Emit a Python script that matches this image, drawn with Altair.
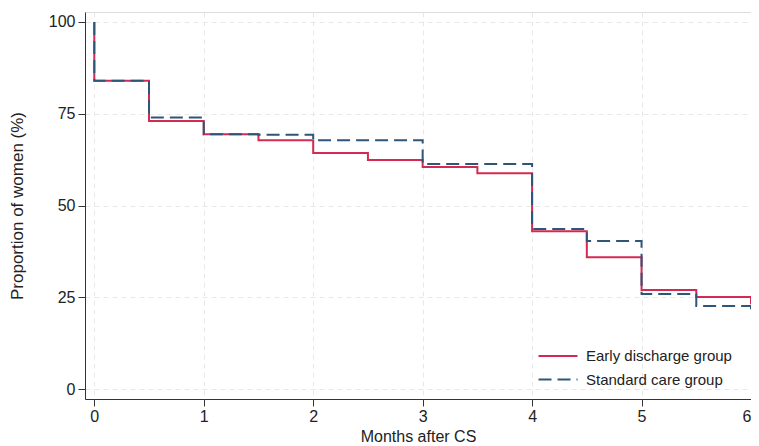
import altair as alt
import pandas as pd

times = [0, 0, 0.5, 1, 1.5, 2, 2.5, 3, 3.5, 4, 4.5, 5, 5.5, 6]
early = [100, 84, 73, 69.4, 67.8, 64.3, 62.4, 60.5, 58.8, 43, 35.9, 27, 25.1, 23.1]
standard = [100, 84, 74, 69.4, 69.3, 67.8, 67.8, 61.3, 61.3, 43.6, 40.3, 25.9, 22.6, 21]
groups = ["Early discharge group", "Standard care group"]
colors = ["#d22a52", "#2d5679"]

rows = []
for g, vals in zip(groups, [early, standard]):
    for i, (t, v) in enumerate(zip(times, vals)):
        rows.append({"group": g, "month": t, "pct": v, "idx": i})
df = pd.DataFrame(rows)

axis_common = dict(
    labelFont="Liberation Sans", titleFont="Liberation Sans",
    labelFontSize=16, labelColor="#222", titleColor="#222",
    titleFontWeight="normal", domainColor="#333", tickColor="#333",
    gridColor="#e8e8e8", gridDash=[5, 4], tickSize=7,
)

legend_opts = dict(title=None, orient="none", legendX=462, legendY=333,
                   symbolType="M-2,0L2,0", symbolSize=380, symbolStrokeWidth=2,
                   labelFont="Liberation Sans", labelFontSize=15,
                   labelColor="#222", rowPadding=4.5, labelOffset=17)

chart = alt.Chart(df).mark_line(interpolate="step-after", strokeWidth=2).encode(
    x=alt.X("month:Q", scale=alt.Scale(domain=[-0.085, 6], nice=False, zero=False),
            axis=alt.Axis(title="Months after CS", values=[0, 1, 2, 3, 4, 5, 6],
                          titleFontSize=16, titlePadding=4, labelPadding=2,
                          labelFlush=True, **axis_common)),
    y=alt.Y("pct:Q", scale=alt.Scale(domain=[-2.7, 102.7], nice=False, zero=False),
            axis=alt.Axis(title="Proportion of women (%)", values=[0, 25, 50, 75, 100],
                          titleFontSize=17, titlePadding=22, labelPadding=3,
                          labelFlush=False, **axis_common)),
    color=alt.Color("group:N", scale=alt.Scale(domain=groups, range=colors),
                    legend=alt.Legend(**legend_opts)),
    strokeDash=alt.StrokeDash("group:N", scale=alt.Scale(domain=groups, range=[[1, 0], [13, 6]]),
                              legend=alt.Legend(**legend_opts)),
    order="idx:Q",
).properties(
    width=666, height=387,
    autosize=alt.AutoSizeParams(type="none"),
    padding={"left": 77, "top": 4, "right": 0, "bottom": 46},
).configure_view(stroke=None).configure(background="white")

chart.save("out.html", embed_options={"renderer": "svg", "actions": False})
